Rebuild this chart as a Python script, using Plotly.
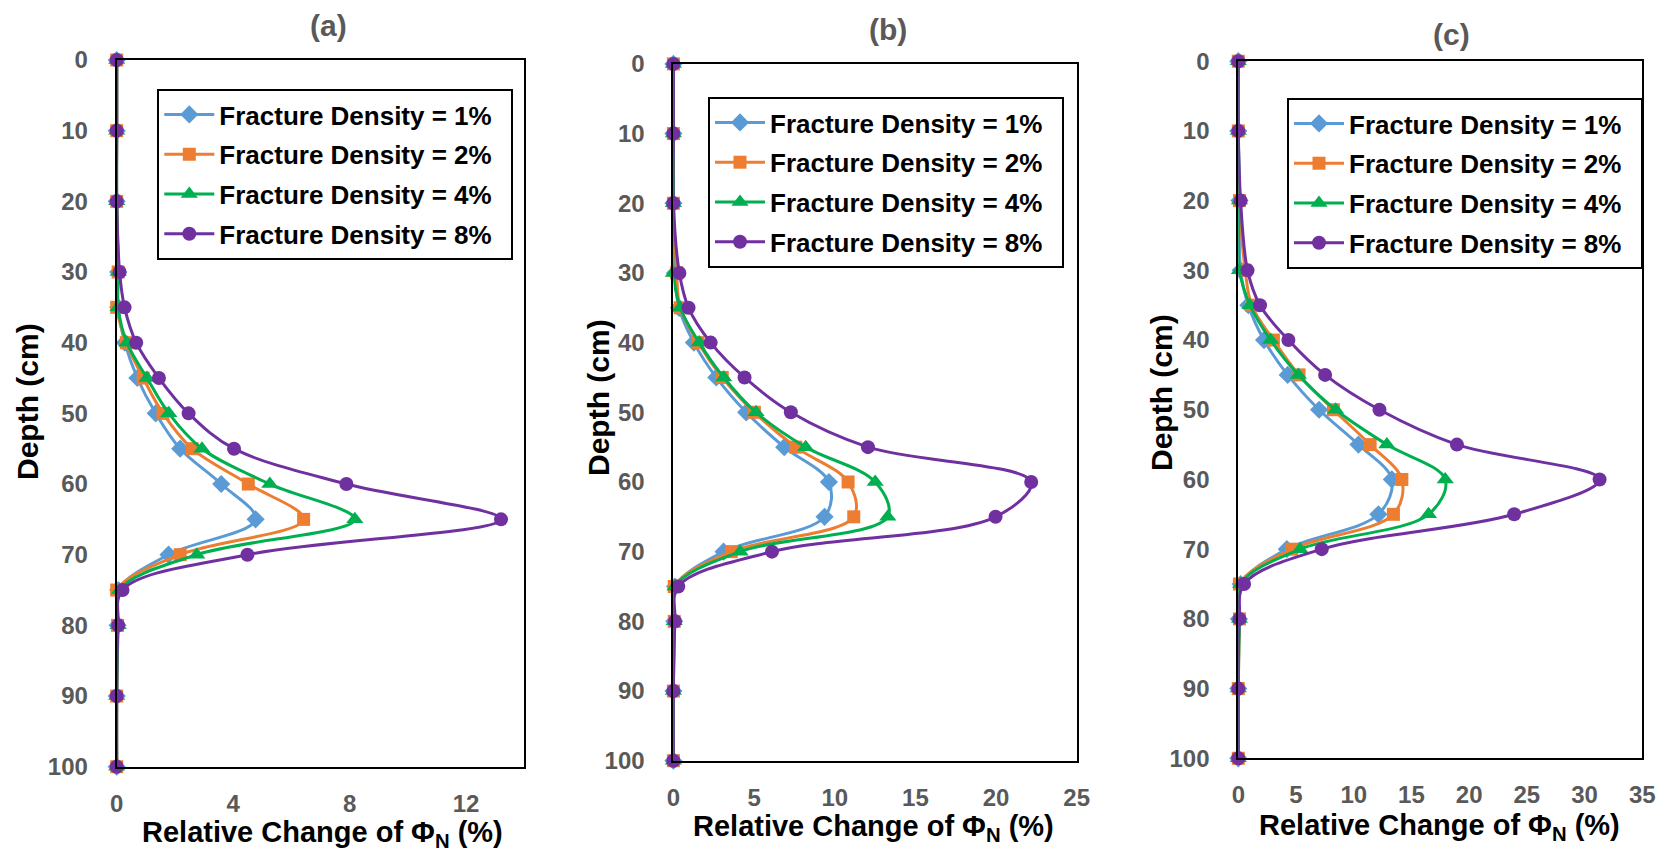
import plotly.graph_objects as go

W, H = 1669, 852

depth = [0, 10, 20, 30, 35, 40, 45, 50, 55, 60, 65, 70, 75, 80, 90, 100]
series_names = ["Fracture Density = 1%", "Fracture Density = 2%",
                "Fracture Density = 4%", "Fracture Density = 8%"]

# Panel (a)
a_fd1 = [0, 0, 0, 0.05, 0.05, 0.28, 0.71, 1.34, 2.18, 3.59, 4.77, 1.78, 0.05, 0.03, 0, 0]
a_fd2 = [0, 0, 0, 0.05, 0.00, 0.33, 0.91, 1.59, 2.59, 4.52, 6.42, 2.18, 0.00, 0.03, 0, 0]
a_fd4 = [0, 0, 0, 0.05, 0.05, 0.35, 1.04, 1.79, 2.93, 5.26, 8.18, 2.75, 0.10, 0.05, 0, 0]
a_fd8 = [0, 0, 0, 0.10, 0.27, 0.67, 1.45, 2.47, 4.03, 7.89, 13.2, 4.49, 0.20, 0.05, 0, 0]

# Panel (b)
b_fd1 = [0, 0, 0, 0.10, 0.35, 1.27, 2.66, 4.51, 6.87, 9.64, 9.37, 3.11, 0.10, 0.05, 0, 0]
b_fd2 = [0, 0, 0, 0.20, 0.42, 1.53, 3.03, 5.02, 7.59, 10.83, 11.18, 3.59, 0.05, 0.05, 0, 0]
b_fd4 = [0, 0, 0, 0.00, 0.42, 1.60, 3.12, 5.12, 8.20, 12.51, 13.29, 4.14, 0.10, 0.05, 0, 0]
b_fd8 = [0, 0, 0, 0.37, 0.94, 2.31, 4.41, 7.28, 12.06, 22.18, 19.97, 6.11, 0.30, 0.10, 0, 0]

# Panel (c)
c_fd1 = [0, 0, 0.1, 0.2, 0.87, 2.23, 4.28, 7.00, 10.41, 13.30, 12.14, 4.20, 0.20, 0.05, 0, 0]
c_fd2 = [0, 0, 0.1, 0.6, 1.16, 3.04, 5.26, 8.24, 11.42, 14.17, 13.44, 4.63, 0.10, 0.10, 0, 0]
c_fd4 = [0, 0, 0.1, 0.1, 1.01, 2.80, 5.20, 8.43, 12.87, 17.93, 16.48, 5.35, 0.20, 0.10, 0, 0]
c_fd8 = [0, 0, 0.2, 0.8, 1.88, 4.34, 7.52, 12.23, 18.94, 31.30, 23.90, 7.23, 0.50, 0.10, 0, 0]

panel_titles = ["(a)", "(b)", "(c)"]
x_ranges = [(0, 14, 4), (0, 25, 5), (0, 35, 5)]
y_ticks = [0, 10, 20, 30, 40, 50, 60, 70, 80, 90, 100]

colors = ["#5B9BD5", "#ED7D31", "#00B050", "#7030A0"]
symbols = ["diamond", "square", "triangle-up", "circle"]
msizes = [14, 13, 15, 14]

FONT = "Liberation Sans, Arial, sans-serif"

# panel geometry in pixels: left, right, top, bottom
boxes = [(116.7, 524.3, 60.0, 766.7),
         (673.4, 1076.7, 63.9, 760.7),
         (1238.3, 1642.3, 61.2, 758.3)]
legend_pos = [(157.3, 89.0), (708.0, 97.0), (1287.0, 98.0)]
title_pos = [(328, 25), (888, 30), (1451, 34)]
xtitle_pos = [(322, 834), (873, 828), (1439, 827)]
ytitle_pos = [(27, 402), (598, 398), (1162, 393)]

data = [[a_fd1, a_fd2, a_fd4, a_fd8],
        [b_fd1, b_fd2, b_fd4, b_fd8],
        [c_fd1, c_fd2, c_fd4, c_fd8]]

fig = go.Figure()
legend_keys = ["legend", "legend2", "legend3"]
PAD = "\u00a0\u00a0"

for p in range(3):
    xa = "x" if p == 0 else f"x{p+1}"
    ya = "y" if p == 0 else f"y{p+1}"
    for s in range(4):
        fig.add_trace(go.Scatter(
            x=data[p][s], y=depth, xaxis=xa, yaxis=ya,
            mode="lines+markers", name=series_names[s] + PAD,
            line=dict(color=colors[s], width=3, shape="spline", smoothing=1.0),
            marker=dict(color=colors[s], symbol=symbols[s], size=msizes[s]),
            cliponaxis=False, legend=legend_keys[p],
            legendgroup=f"g{p}_{s}",
        ))

layout = dict(
    width=W, height=H,
    margin=dict(l=0, r=0, t=0, b=0, pad=0, autoexpand=False),
    paper_bgcolor="white", plot_bgcolor="white",
    font=dict(family=FONT, size=24, color="black"),
    annotations=[],
)

for p in range(3):
    l, r, t, b = boxes[p]
    xk = "xaxis" if p == 0 else f"xaxis{p+1}"
    yk = "yaxis" if p == 0 else f"yaxis{p+1}"
    ya_name = "y" if p == 0 else f"y{p+1}"
    xa_name = "x" if p == 0 else f"x{p+1}"
    x0, x1, dt = x_ranges[p]
    layout[xk] = dict(
        domain=[l / W, r / W], anchor=ya_name, range=[x0, x1],
        tick0=0, dtick=dt, showgrid=False, zeroline=False,
        showline=True, mirror=True, linecolor="black", linewidth=2,
        ticks="", ticklabelstandoff=14, automargin=False,
        tickfont=dict(family=FONT, size=24, color="#595959", weight="bold"),
    )
    layout[yk] = dict(
        domain=[1 - b / H, 1 - t / H], anchor=xa_name, range=[100, 0],
        tickvals=y_ticks, showgrid=False, zeroline=False,
        showline=True, mirror=True, linecolor="black", linewidth=2,
        ticks="", ticklabelstandoff=22, automargin=False,
        tickfont=dict(family=FONT, size=24, color="#595959", weight="bold"),
    )
    lx, ly = legend_pos[p]
    layout[legend_keys[p]] = dict(
        x=lx / W, y=1 - ly / H, xanchor="left", yanchor="top",
        bgcolor="white", bordercolor="black", borderwidth=2,
        font=dict(family=FONT, size=26, color="black", weight="bold"),
        itemwidth=50, tracegroupgap=3, traceorder="grouped",
    )
    tx, ty = title_pos[p]
    layout["annotations"].append(dict(
        text=panel_titles[p], x=tx / W, y=1 - ty / H, xref="paper", yref="paper",
        xanchor="center", yanchor="middle", showarrow=False,
        font=dict(family=FONT, size=30, color="#595959", weight="bold")))
    tx, ty = xtitle_pos[p]
    layout["annotations"].append(dict(
        text="Relative Change of Φ<sub>N</sub> (%)", x=tx / W, y=1 - ty / H,
        xref="paper", yref="paper", xanchor="center", yanchor="middle",
        showarrow=False,
        font=dict(family=FONT, size=29, color="black", weight="bold")))
    tx, ty = ytitle_pos[p]
    layout["annotations"].append(dict(
        text="Depth (cm)", x=tx / W, y=1 - ty / H, xref="paper", yref="paper",
        xanchor="center", yanchor="middle", showarrow=False, textangle=-90,
        font=dict(family=FONT, size=30, color="black", weight="bold")))

fig.update_layout(**layout)
fig.write_html(
    "out.html",
    config={"displayModeBar": False},
    post_script="document.body.style.margin='0px';document.body.style.overflow='hidden';",
)
